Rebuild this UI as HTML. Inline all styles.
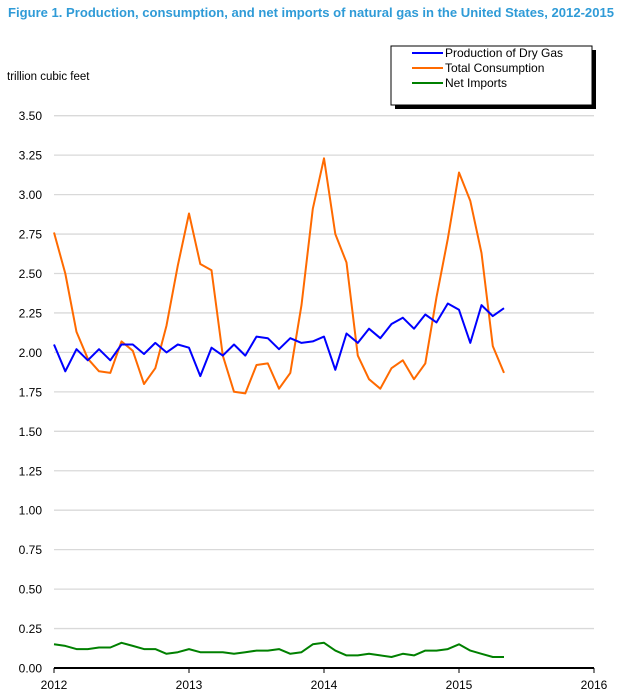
<!DOCTYPE html>
<html><head><meta charset="utf-8"><style>
html,body{margin:0;padding:0;background:#fff;}
svg{display:block;font-family:"Liberation Sans",Arial,sans-serif;}
</style></head><body>
<svg id="c" width="633" height="695" viewBox="0 0 633 695" xmlns="http://www.w3.org/2000/svg">
<text x="8" y="17" font-size="12.5" font-weight="bold" fill="#2f9bd7" textLength="606" lengthAdjust="spacingAndGlyphs">Figure 1.  Production, consumption, and net imports of natural gas in the United States, 2012-2015</text>
<text x="7" y="80" font-size="11.5" fill="#000">trillion cubic feet</text>
<g id="grid"></g>
<rect x="395" y="50" width="201" height="59" fill="#000"/>
<rect x="391" y="46" width="201" height="59" fill="#fff" stroke="#000" stroke-width="1"/>
<line x1="412" y1="53" x2="443" y2="53" stroke="#0000ff" stroke-width="2"/>
<line x1="412" y1="68" x2="443" y2="68" stroke="#ff6a00" stroke-width="2"/>
<line x1="412" y1="83" x2="443" y2="83" stroke="#008000" stroke-width="2"/>
<text x="445" y="57" font-size="12">Production of Dry Gas</text>
<text x="445" y="72" font-size="12">Total Consumption</text>
<text x="445" y="87" font-size="12">Net Imports</text>
<g id="lines"></g>
</svg>
<script>
var x0=54,x1=594,y0=668,py=39.45/0.25;
var g=document.getElementById('grid'),L=document.getElementById('lines'),ns='http://www.w3.org/2000/svg';
function el(t,a,p){var e=document.createElementNS(ns,t);for(var k in a)e.setAttribute(k,a[k]);(p||g).appendChild(e);return e;}
for(var i=0;i<=14;i++){var v=i*0.25,y=y0-v*py;
 if(i>0)el('line',{x1:x0,x2:x1,y1:y,y2:y,stroke:'#d9d9d9','stroke-width':1.3});
 var t=el('text',{x:42,y:y+4.5,'font-size':12,'text-anchor':'end'});t.textContent=v.toFixed(2);}
el('line',{x1:x0,x2:x1,y1:y0,y2:y0,stroke:'#000','stroke-width':2});
for(var k=0;k<=4;k++){var x=x0+k*(x1-x0)/4;el('line',{x1:x,x2:x,y1:y0,y2:y0+5,stroke:'#000','stroke-width':1});
 var t=el('text',{x:x,y:y0+21,'font-size':12,'text-anchor':'middle'});t.textContent=2012+k;}
var P=[2.05,1.88,2.02,1.95,2.02,1.95,2.05,2.05,1.99,2.06,2.00,2.05,2.03,1.85,2.03,1.98,2.05,1.98,2.10,2.09,2.02,2.09,2.06,2.07,2.10,1.89,2.12,2.06,2.15,2.09,2.18,2.22,2.15,2.24,2.19,2.31,2.27,2.06,2.30,2.23,2.28];
var C=[2.76,2.50,2.13,1.96,1.88,1.87,2.07,2.01,1.80,1.90,2.17,2.55,2.88,2.56,2.52,1.98,1.75,1.74,1.92,1.93,1.77,1.87,2.30,2.91,3.23,2.75,2.57,1.98,1.83,1.77,1.90,1.95,1.83,1.93,2.35,2.72,3.14,2.96,2.63,2.04,1.87];
var N=[0.15,0.14,0.12,0.12,0.13,0.13,0.16,0.14,0.12,0.12,0.09,0.10,0.12,0.10,0.10,0.10,0.09,0.10,0.11,0.11,0.12,0.09,0.10,0.15,0.16,0.11,0.08,0.08,0.09,0.08,0.07,0.09,0.08,0.11,0.11,0.12,0.15,0.11,0.09,0.07,0.07];
var dx=(x1-x0)/48;
function line(d,c){var p=d.map(function(v,i){return (x0+i*dx).toFixed(1)+','+(y0-v*py).toFixed(1)}).join(' ');
 el('polyline',{points:p,fill:'none',stroke:c,'stroke-width':2,'stroke-linejoin':'round'},L);}
line(N,'#008000');line(C,'#ff6a00');line(P,'#0000ff');
</script>
</body></html>
